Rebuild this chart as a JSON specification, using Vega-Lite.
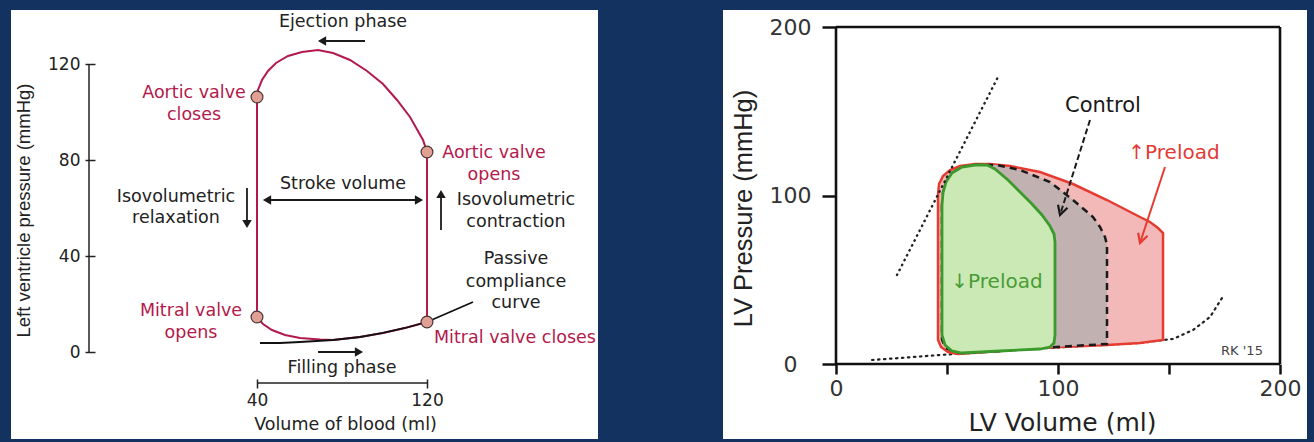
{
  "$schema": "https://vega.github.io/schema/vega-lite/v6.json",
  "background": "#14325f",
  "padding": {"left": 11, "top": 10, "right": 7, "bottom": 3},
  "bounds": "flush",
  "spacing": 125,
  "config": {"view": {"stroke": null, "fill": "white"}, "axis": {"grid": false}},
  "datasets": {
    "lax": [{"v": -39.06, "p": 0, "v2": -39.06, "p2": 120}, {"v": 40, "p": -12.92, "v2": 120, "p2": -12.92}],
    "lcomp": [
      {"o": 1, "v": 41.41, "p": 3.75}, {"o": 2, "v": 50.82, "p": 3.75}, {"o": 3, "v": 60.24, "p": 4.17},
      {"o": 4, "v": 75.76, "p": 5.0}, {"o": 5, "v": 88.47, "p": 6.25}, {"o": 6, "v": 99.29, "p": 7.92},
      {"o": 7, "v": 109.65, "p": 10.0}, {"o": 8, "v": 120, "p": 12.5}, {"o": 9, "v": 130.82, "p": 16.67},
      {"o": 10, "v": 141.65, "p": 20.83}
    ],
    "lloop": [
      {"o": 1, "v": 120, "p": 12.5}, {"o": 2, "v": 120, "p": 83.33}, {"o": 3, "v": 118.12, "p": 88.33},
      {"o": 4, "v": 112.0, "p": 97.92}, {"o": 5, "v": 105.88, "p": 105.0}, {"o": 6, "v": 99.29, "p": 111.67},
      {"o": 7, "v": 91.76, "p": 117.08}, {"o": 8, "v": 83.76, "p": 121.67}, {"o": 9, "v": 75.76, "p": 124.58},
      {"o": 10, "v": 68.71, "p": 125.83}, {"o": 11, "v": 61.18, "p": 125.0}, {"o": 12, "v": 54.59, "p": 123.33},
      {"o": 13, "v": 48.94, "p": 120.42}, {"o": 14, "v": 45.18, "p": 117.08}, {"o": 15, "v": 42.35, "p": 113.33},
      {"o": 16, "v": 40.47, "p": 109.17}, {"o": 17, "v": 40, "p": 106.25}, {"o": 18, "v": 40, "p": 14.58},
      {"o": 19, "v": 42.82, "p": 11.67}, {"o": 20, "v": 47.06, "p": 9.17}, {"o": 21, "v": 53.18, "p": 7.08},
      {"o": 22, "v": 60.24, "p": 5.83}, {"o": 23, "v": 69.65, "p": 5.2}, {"o": 24, "v": 75.76, "p": 5.0},
      {"o": 25, "v": 88.47, "p": 6.25}, {"o": 26, "v": 99.29, "p": 7.92}, {"o": 27, "v": 109.65, "p": 10.0},
      {"o": 28, "v": 120, "p": 12.5}
    ],
    "lvalves": [{"v": 40, "p": 106.25}, {"v": 120, "p": 83.33}, {"v": 40, "p": 14.58}, {"v": 120, "p": 12.5}],
    "larrows": [
      {"v": 70.6, "p": 129.58, "v2": 90.82, "p2": 129.58},
      {"v": 44.7, "p": 63.33, "v2": 116.24, "p2": 63.33},
      {"v": 35.29, "p": 68.33, "v2": 35.29, "p2": 53.33},
      {"v": 126.59, "p": 50.83, "v2": 126.59, "p2": 65.83},
      {"v": 68.71, "p": 0, "v2": 88.0, "p2": 0}
    ],
    "lheads": [
      {"v": 70.59, "p": 129.58, "d": "left"},
      {"v": 44.71, "p": 63.33, "d": "left"},
      {"v": 116.24, "p": 63.33, "d": "right"},
      {"v": 35.29, "p": 53.33, "d": "down"},
      {"v": 126.59, "p": 65.83, "d": "up"},
      {"v": 88.0, "p": 0, "d": "right"}
    ],
    "ltext": [
      {"v": 80.47, "p": 137.5, "t": "Ejection phase"},
      {"v": 80.47, "p": 70.0, "t": "Stroke volume"},
      {"v": 1.88, "p": 64.58, "t": "Isovolumetric"},
      {"v": 1.88, "p": 55.83, "t": "relaxation"},
      {"v": 161.88, "p": 63.33, "t": "Isovolumetric"},
      {"v": 161.88, "p": 54.17, "t": "contraction"},
      {"v": 161.88, "p": 38.75, "t": "Passive"},
      {"v": 161.88, "p": 29.17, "t": "compliance"},
      {"v": 161.88, "p": 20.42, "t": "curve"},
      {"v": 80.0, "p": -6.67, "t": "Filling phase"}
    ],
    "ltextc": [
      {"v": 10.35, "p": 107.92, "t": "Aortic valve"},
      {"v": 10.35, "p": 98.75, "t": "closes"},
      {"v": 151.53, "p": 82.92, "t": "Aortic valve"},
      {"v": 151.53, "p": 73.75, "t": "opens"},
      {"v": 8.94, "p": 17.08, "t": "Mitral valve"},
      {"v": 8.94, "p": 7.92, "t": "opens"},
      {"v": 161.4, "p": 5.83, "t": "Mitral valve closes"}
    ],
    "rframe": [
      {"v": 0, "p": 0, "v2": 0, "p2": 200}, {"v": 200, "p": 0, "v2": 200, "p2": 200},
      {"v": 0, "p": 200, "v2": 200, "p2": 200}, {"v": 0, "p": 0, "v2": 200, "p2": 0}
    ],
    "respvr": [{"o": 1, "v": 27.48, "p": 52.82}, {"o": 2, "v": 72.97, "p": 170.33}],
    "redpvr": [
      {"o": 1, "v": 16.22, "p": 2.37}, {"o": 2, "v": 28.83, "p": 3.56}, {"o": 3, "v": 46.85, "p": 5.34},
      {"o": 4, "v": 73.87, "p": 7.72}, {"o": 5, "v": 106.76, "p": 10.39}, {"o": 6, "v": 136.94, "p": 12.46},
      {"o": 7, "v": 147.3, "p": 14.24}, {"o": 8, "v": 151.8, "p": 14.84}, {"o": 9, "v": 160.81, "p": 20.18},
      {"o": 10, "v": 168.47, "p": 27.89}, {"o": 11, "v": 173.87, "p": 39.17}
    ],
    "rup": [
      {"o": 1, "v": 45.95, "p": 100.3}, {"o": 2, "v": 45.95, "p": 14.24}, {"o": 3, "v": 47.3, "p": 10.09},
      {"o": 4, "v": 50.45, "p": 7.12}, {"o": 5, "v": 54.95, "p": 5.93}, {"o": 6, "v": 73.87, "p": 7.72},
      {"o": 7, "v": 91.89, "p": 9.5}, {"o": 8, "v": 106.76, "p": 10.39}, {"o": 9, "v": 122.07, "p": 11.28},
      {"o": 10, "v": 136.94, "p": 12.46}, {"o": 11, "v": 147.3, "p": 14.24}, {"o": 12, "v": 147.3, "p": 77.74},
      {"o": 13, "v": 145.05, "p": 80.71}, {"o": 14, "v": 141.44, "p": 84.27}, {"o": 15, "v": 136.94, "p": 87.24},
      {"o": 16, "v": 122.07, "p": 97.33}, {"o": 17, "v": 106.76, "p": 106.82}, {"o": 18, "v": 91.89, "p": 113.95},
      {"o": 19, "v": 78.38, "p": 117.51}, {"o": 20, "v": 69.37, "p": 118.69}, {"o": 21, "v": 62.61, "p": 118.69},
      {"o": 22, "v": 55.86, "p": 117.51}, {"o": 23, "v": 51.35, "p": 115.13}, {"o": 24, "v": 48.2, "p": 111.57},
      {"o": 25, "v": 46.4, "p": 106.82}, {"o": 26, "v": 45.95, "p": 100.3}
    ],
    "rctl": [
      {"o": 1, "v": 47.75, "p": 94.36}, {"o": 2, "v": 47.75, "p": 14.24}, {"o": 3, "v": 49.55, "p": 9.5},
      {"o": 4, "v": 53.6, "p": 7.12}, {"o": 5, "v": 58.11, "p": 6.53}, {"o": 6, "v": 73.87, "p": 7.72},
      {"o": 7, "v": 91.89, "p": 9.5}, {"o": 8, "v": 106.76, "p": 10.68}, {"o": 9, "v": 122.07, "p": 11.87},
      {"o": 10, "v": 122.07, "p": 70.62}, {"o": 11, "v": 121.17, "p": 75.37}, {"o": 12, "v": 118.92, "p": 81.31},
      {"o": 13, "v": 115.77, "p": 87.24}, {"o": 14, "v": 106.76, "p": 97.33}, {"o": 15, "v": 96.4, "p": 108.01},
      {"o": 16, "v": 91.89, "p": 110.39}, {"o": 17, "v": 82.88, "p": 115.13}, {"o": 18, "v": 72.52, "p": 118.1},
      {"o": 19, "v": 68.02, "p": 118.1}, {"o": 20, "v": 62.61, "p": 118.1}, {"o": 21, "v": 56.76, "p": 116.91},
      {"o": 22, "v": 52.25, "p": 113.35}, {"o": 23, "v": 49.55, "p": 108.01}, {"o": 24, "v": 48.2, "p": 101.48},
      {"o": 25, "v": 47.75, "p": 94.36}
    ],
    "rdown": [
      {"o": 1, "v": 47.75, "p": 94.36}, {"o": 2, "v": 47.75, "p": 17.21}, {"o": 3, "v": 49.1, "p": 11.28},
      {"o": 4, "v": 52.25, "p": 7.72}, {"o": 5, "v": 56.76, "p": 6.53}, {"o": 6, "v": 73.87, "p": 7.72},
      {"o": 7, "v": 91.89, "p": 8.9}, {"o": 8, "v": 96.4, "p": 10.09}, {"o": 9, "v": 98.2, "p": 12.46},
      {"o": 10, "v": 98.65, "p": 17.21}, {"o": 11, "v": 98.65, "p": 72.4}, {"o": 12, "v": 98.2, "p": 77.15},
      {"o": 13, "v": 96.4, "p": 81.9}, {"o": 14, "v": 92.79, "p": 88.43}, {"o": 15, "v": 88.29, "p": 94.96},
      {"o": 16, "v": 82.88, "p": 102.08}, {"o": 17, "v": 77.48, "p": 109.2}, {"o": 18, "v": 71.62, "p": 115.73},
      {"o": 19, "v": 68.02, "p": 118.1}, {"o": 20, "v": 62.61, "p": 118.1}, {"o": 21, "v": 56.76, "p": 116.91},
      {"o": 22, "v": 52.25, "p": 113.35}, {"o": 23, "v": 49.55, "p": 108.01}, {"o": 24, "v": 48.2, "p": 101.48},
      {"o": 25, "v": 47.75, "p": 94.36}
    ],
    "rarrowctl": [{"v": 114.41, "p": 144.81, "v2": 100.9, "p2": 88.43}],
    "rheadctl": [{"v": 100.9, "p": 88.43}],
    "rarrowup": [{"v": 148.2, "p": 116.91, "v2": 136.94, "p2": 71.81}],
    "rheadup": [{"v": 136.94, "p": 71.81}],
    "rtctl": [{"v": 120.27, "p": 153.12, "t": "Control"}],
    "rtup": [{"v": 152.25, "p": 125.22, "t": "↑Preload"}],
    "rtdown": [{"v": 72.52, "p": 48.66, "t": "↓Preload"}],
    "rtrk": [{"v": 182.88, "p": 7.72, "t": "RK '15"}]
  },
  "hconcat": [
    {
      "width": 587,
      "height": 429,
      "encoding": {
        "x": {
          "field": "v", "type": "quantitative",
          "scale": {"domain": [-75.765, 200.47], "nice": false, "zero": false},
          "axis": {
            "values": [40, 120], "offset": -60, "domain": false, "grid": false,
            "tickSize": 9, "tickWidth": 1.5, "tickColor": "#222",
            "labelFont": "DejaVu Sans", "labelFontSize": 17, "labelColor": "#222", "labelPadding": 4,
            "title": "Volume of blood (ml)", "titleFont": "DejaVu Sans", "titleFontSize": 17.5,
            "titleFontWeight": "normal", "titleColor": "#222", "titleX": 334, "titleY": 45,
            "titleBaseline": "middle", "titleAlign": "center"
          }
        },
        "y": {
          "field": "p", "type": "quantitative",
          "scale": {"domain": [-36.25, 142.5], "nice": false, "zero": false},
          "axis": {
            "values": [0, 40, 80, 120], "offset": -84, "domain": false, "grid": false,
            "tickSize": 10, "tickWidth": 1.5, "tickColor": "#222",
            "labelFont": "DejaVu Sans", "labelFontSize": 17, "labelColor": "#222", "labelPadding": 5,
            "title": "Left ventricle pressure (mmHg)", "titleFont": "Liberation Sans", "titleFontSize": 18.5,
            "titleFontWeight": "normal", "titleColor": "#222", "titleX": -72, "titleY": 200,
            "titleAngle": 270, "titleBaseline": "middle", "titleAlign": "center"
          }
        }
      },
      "layer": [
        {
          "data": {"name": "lax"},
          "mark": {"type": "rule", "color": "#222", "strokeWidth": 1.5},
          "encoding": {"x2": {"field": "v2"}, "y2": {"field": "p2"}}
        },
        {
          "data": {"name": "lloop"},
          "mark": {"type": "line", "color": "#b3194b", "strokeWidth": 2},
          "encoding": {"order": {"field": "o", "type": "quantitative"}}
        },
        {
          "data": {"name": "lcomp"},
          "mark": {"type": "line", "color": "#111", "strokeWidth": 1.8},
          "encoding": {"order": {"field": "o", "type": "quantitative"}}
        },
        {
          "data": {"name": "lvalves"},
          "mark": {"type": "point", "filled": true, "fill": "#e0a094", "stroke": "#4a3535", "strokeWidth": 1.2, "size": 140, "opacity": 1}
        },
        {
          "data": {"name": "larrows"},
          "mark": {"type": "rule", "color": "#1a1a1a", "strokeWidth": 1.8},
          "encoding": {"x2": {"field": "v2"}, "y2": {"field": "p2"}}
        },
        {
          "data": {"name": "lheads"},
          "mark": {"type": "point", "filled": true, "color": "#1a1a1a", "size": 90, "opacity": 1},
          "encoding": {
            "shape": {
              "field": "d", "type": "nominal", "legend": null,
              "scale": {"domain": ["left", "right", "up", "down"], "range": ["triangle-left", "triangle-right", "triangle-up", "triangle-down"]}
            }
          }
        },
        {
          "data": {"name": "ltext"},
          "mark": {"type": "text", "font": "DejaVu Sans", "fontSize": 17.5, "color": "#222", "align": "center", "baseline": "middle"},
          "encoding": {"text": {"field": "t"}}
        },
        {
          "data": {"name": "ltextc"},
          "mark": {"type": "text", "font": "DejaVu Sans", "fontSize": 17.5, "color": "#b3194b", "align": "center", "baseline": "middle"},
          "encoding": {"text": {"field": "t"}}
        }
      ]
    },
    {
      "width": 584,
      "height": 429,
      "encoding": {
        "x": {
          "field": "v", "type": "quantitative",
          "scale": {"domain": [-50.9, 212.16], "nice": false, "zero": false},
          "axis": {
            "values": [0, 50, 100, 150, 200], "offset": -75, "domain": false, "grid": false,
            "labelExpr": "datum.value % 100 === 0 ? datum.label : ''",
            "tickSize": 10, "tickWidth": 2.5, "tickColor": "#111",
            "labelFont": "DejaVu Sans", "labelFontSize": 22, "labelColor": "#333", "labelPadding": 4,
            "title": "LV Volume (ml)", "titleFont": "DejaVu Sans", "titleFontSize": 25,
            "titleFontWeight": "normal", "titleColor": "#222", "titleX": 339, "titleY": 58,
            "titleBaseline": "middle", "titleAlign": "center"
          }
        },
        "y": {
          "field": "p", "type": "quantitative",
          "scale": {"domain": [-44.51, 210.09], "nice": false, "zero": false},
          "axis": {
            "values": [0, 100, 200], "offset": -113, "domain": false, "grid": false,
            "tickSize": 14, "tickWidth": 2.5, "tickColor": "#111",
            "labelFont": "DejaVu Sans", "labelFontSize": 22, "labelColor": "#333", "labelPadding": 32, "labelAlign": "center",
            "title": "LV Pressure (mmHg)", "titleFont": "Liberation Sans", "titleFontSize": 25.5,
            "titleFontWeight": "normal", "titleColor": "#222", "titleX": -93, "titleY": 198,
            "titleAngle": 270, "titleBaseline": "middle", "titleAlign": "center"
          }
        }
      },
      "layer": [
        {
          "data": {"name": "redpvr"},
          "mark": {"type": "line", "color": "#222", "strokeWidth": 2.2, "strokeDash": [1.5, 4.5], "strokeCap": "round"},
          "encoding": {"order": {"field": "o", "type": "quantitative"}}
        },
        {
          "data": {"name": "rup"},
          "mark": {"type": "line", "fill": "#f2b9b8", "stroke": "#e53b30", "strokeWidth": 2.5},
          "encoding": {"order": {"field": "o", "type": "quantitative"}}
        },
        {
          "data": {"name": "rctl"},
          "mark": {"type": "line", "fill": "#c1b1b1", "stroke": "#1a1a1a", "strokeWidth": 2.5, "strokeDash": [7, 5]},
          "encoding": {"order": {"field": "o", "type": "quantitative"}}
        },
        {
          "data": {"name": "rdown"},
          "mark": {"type": "line", "fill": "#cbe9b5", "stroke": "#3c9a2d", "strokeWidth": 2.8},
          "encoding": {"order": {"field": "o", "type": "quantitative"}}
        },
        {
          "data": {"name": "respvr"},
          "mark": {"type": "line", "color": "#222", "strokeWidth": 2.4, "strokeDash": [0.5, 5], "strokeCap": "round"},
          "encoding": {"order": {"field": "o", "type": "quantitative"}}
        },
        {
          "data": {"name": "rframe"},
          "mark": {"type": "rule", "color": "#111", "strokeWidth": 2.6},
          "encoding": {"x2": {"field": "v2"}, "y2": {"field": "p2"}}
        },
        {
          "data": {"name": "rarrowctl"},
          "mark": {"type": "rule", "color": "#1a1a1a", "strokeWidth": 2, "strokeDash": [6, 3]},
          "encoding": {"x2": {"field": "v2"}, "y2": {"field": "p2"}}
        },
        {
          "data": {"name": "rheadctl"},
          "mark": {"type": "point", "shape": "M-0.7,-1.3L0,0L0.7,-1.3", "filled": false, "color": "#1a1a1a", "strokeWidth": 2.2, "size": 200, "angle": 17.5, "opacity": 1}
        },
        {
          "data": {"name": "rarrowup"},
          "mark": {"type": "rule", "color": "#e53b30", "strokeWidth": 2},
          "encoding": {"x2": {"field": "v2"}, "y2": {"field": "p2"}}
        },
        {
          "data": {"name": "rheadup"},
          "mark": {"type": "point", "shape": "M-0.7,-1.3L0,0L0.7,-1.3", "filled": false, "color": "#e53b30", "strokeWidth": 2.2, "size": 200, "angle": 18.2, "opacity": 1}
        },
        {
          "data": {"name": "rtctl"},
          "mark": {"type": "text", "font": "DejaVu Sans", "fontSize": 21, "color": "#1a1a1a", "align": "center", "baseline": "middle"},
          "encoding": {"text": {"field": "t"}}
        },
        {
          "data": {"name": "rtup"},
          "mark": {"type": "text", "font": "DejaVu Sans", "fontSize": 20, "color": "#e23b35", "align": "center", "baseline": "middle"},
          "encoding": {"text": {"field": "t"}}
        },
        {
          "data": {"name": "rtdown"},
          "mark": {"type": "text", "font": "DejaVu Sans", "fontSize": 20, "color": "#4a9c35", "align": "center", "baseline": "middle"},
          "encoding": {"text": {"field": "t"}}
        },
        {
          "data": {"name": "rtrk"},
          "mark": {"type": "text", "font": "DejaVu Sans", "fontSize": 13, "color": "#444", "align": "center", "baseline": "middle"},
          "encoding": {"text": {"field": "t"}}
        }
      ]
    }
  ]
}
